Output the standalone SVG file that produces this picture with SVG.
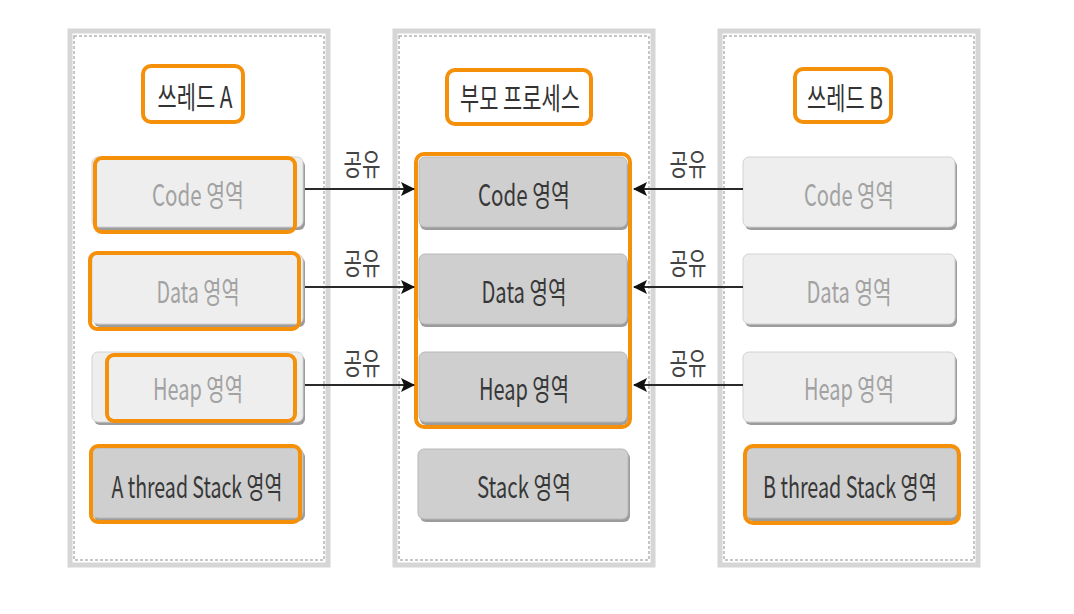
<svg xmlns="http://www.w3.org/2000/svg" width="1074" height="614" viewBox="0 0 1074 614">
  <style>
    .panel{fill:#ffffff;stroke:#d6d6d6;stroke-width:5}
    .dash{fill:none;stroke:#b4b4b4;stroke-width:1.5;stroke-dasharray:3 2}
    .shadow{fill:#9c9c9c}
    .light{fill:#eeeeee;stroke:#d2d2d2;stroke-width:1}
    .dark{fill:#cfcfcf;stroke:#b8b8b8;stroke-width:1}
    .orange{fill:none;stroke:#f5900a;stroke-width:4}
    .title{fill:#ffffff;stroke:#f5900a;stroke-width:4}
    text{font-family:"Noto Sans CJK KR","Noto Sans",sans-serif;dominant-baseline:central;text-anchor:middle}
    .tl{fill:#a2a2a2;font-size:30px}
    .td{fill:#383838;font-size:30px}
    .tt{fill:#333333;font-size:30px}
    .lab{fill:#444444;font-size:30px}
    .conn{stroke:#2a2a2a;stroke-width:2}
  </style>
  <defs>
    <marker id="ah" markerUnits="userSpaceOnUse" markerWidth="14" markerHeight="14" refX="13" refY="7" orient="auto">
      <path d="M0,0 L14,7 L0,14 L3,7 z" fill="#111111"/>
    </marker>
  </defs>
  <rect width="1074" height="614" fill="#ffffff"/>

  <!-- panels -->
  <g id="panel-thread-a">
    <rect class="panel" x="70" y="31" width="258" height="534"/>
    <rect class="dash" x="74" y="36" width="250" height="524"/>
  </g>
  <g id="panel-parent">
    <rect class="panel" x="395" y="31" width="258" height="534"/>
    <rect class="dash" x="399" y="36" width="250" height="524"/>
  </g>
  <g id="panel-thread-b">
    <rect class="panel" x="720" y="31" width="258" height="534"/>
    <rect class="dash" x="724" y="36" width="250" height="524"/>
  </g>

  <!-- titles -->
  <g id="title-a">
    <rect class="title" x="143" y="66" width="100" height="56" rx="8"/>
    <text class="tt" x="195" y="95" textLength="75" lengthAdjust="spacingAndGlyphs">쓰레드 A</text>
  </g>
  <g id="title-parent">
    <rect class="title" x="447" y="70" width="144" height="54" rx="8"/>
    <text class="tt" x="520" y="96" textLength="120" lengthAdjust="spacingAndGlyphs">부모 프로세스</text>
  </g>
  <g id="title-b">
    <rect class="title" x="795" y="69" width="96" height="53" rx="8"/>
    <text class="tt" x="845" y="96" textLength="76" lengthAdjust="spacingAndGlyphs">쓰레드 B</text>
  </g>

  <!-- thread A -->
  <g id="a-code">
    <rect class="shadow" x="94" y="160" width="211" height="70" rx="6"/>
    <rect class="light" x="92" y="157" width="211" height="70" rx="6"/>
    <rect class="orange" x="95" y="158" width="200" height="74" rx="7"/>
    <text class="tl" x="198" y="193" textLength="92" lengthAdjust="spacingAndGlyphs">Code 영역</text>
  </g>
  <g id="a-data">
    <rect class="shadow" x="94" y="257" width="211" height="70" rx="6"/>
    <rect class="light" x="92" y="254" width="211" height="70" rx="6"/>
    <rect class="orange" x="90" y="253" width="209" height="76" rx="7"/>
    <text class="tl" x="198" y="290" textLength="83" lengthAdjust="spacingAndGlyphs">Data 영역</text>
  </g>
  <g id="a-heap">
    <rect class="shadow" x="94" y="355" width="211" height="70" rx="6"/>
    <rect class="light" x="92" y="352" width="211" height="70" rx="6"/>
    <rect class="orange" x="107" y="355" width="188" height="66" rx="7"/>
    <text class="tl" x="198" y="387" textLength="90" lengthAdjust="spacingAndGlyphs">Heap 영역</text>
  </g>
  <g id="a-stack">
    <rect class="shadow" x="94" y="451" width="211" height="70" rx="6"/>
    <rect class="dark" x="92" y="448" width="211" height="70" rx="6"/>
    <rect class="orange" x="91" y="446" width="209" height="76" rx="7"/>
    <text class="td" x="197" y="485" textLength="171" lengthAdjust="spacingAndGlyphs">A thread Stack 영역</text>
  </g>

  <!-- parent -->
  <g id="p-code">
    <rect class="shadow" x="420" y="160" width="208" height="70" rx="6"/>
    <rect class="dark" x="419" y="157" width="208" height="70" rx="6"/>
    <text class="td" x="524" y="193" textLength="92" lengthAdjust="spacingAndGlyphs">Code 영역</text>
  </g>
  <g id="p-data">
    <rect class="shadow" x="420" y="257" width="208" height="70" rx="6"/>
    <rect class="dark" x="419" y="254" width="208" height="70" rx="6"/>
    <text class="td" x="524" y="290" textLength="85" lengthAdjust="spacingAndGlyphs">Data 영역</text>
  </g>
  <g id="p-heap">
    <rect class="shadow" x="420" y="355" width="208" height="70" rx="6"/>
    <rect class="dark" x="419" y="352" width="208" height="70" rx="6"/>
    <text class="td" x="524" y="387" textLength="90" lengthAdjust="spacingAndGlyphs">Heap 영역</text>
  </g>
  <g id="p-shared-outline">
    <rect class="orange" x="416" y="154" width="214" height="273" rx="8"/>
  </g>
  <g id="p-stack">
    <rect class="shadow" x="420" y="452" width="210" height="70" rx="6"/>
    <rect class="dark" x="418" y="449" width="210" height="70" rx="6"/>
    <text class="td" x="524" y="485" textLength="94" lengthAdjust="spacingAndGlyphs">Stack 영역</text>
  </g>

  <!-- thread B -->
  <g id="b-code">
    <rect class="shadow" x="745" y="160" width="212" height="70" rx="6"/>
    <rect class="light" x="743" y="157" width="212" height="70" rx="6"/>
    <text class="tl" x="849" y="193" textLength="90" lengthAdjust="spacingAndGlyphs">Code 영역</text>
  </g>
  <g id="b-data">
    <rect class="shadow" x="745" y="257" width="212" height="70" rx="6"/>
    <rect class="light" x="743" y="254" width="212" height="70" rx="6"/>
    <text class="tl" x="849" y="290" textLength="85" lengthAdjust="spacingAndGlyphs">Data 영역</text>
  </g>
  <g id="b-heap">
    <rect class="shadow" x="745" y="355" width="212" height="70" rx="6"/>
    <rect class="light" x="743" y="352" width="212" height="70" rx="6"/>
    <text class="tl" x="849" y="387" textLength="90" lengthAdjust="spacingAndGlyphs">Heap 영역</text>
  </g>
  <g id="b-stack">
    <rect class="shadow" x="747" y="451" width="212" height="70" rx="6"/>
    <rect class="dark" x="745" y="448" width="212" height="70" rx="6"/>
    <rect class="orange" x="745" y="446" width="214" height="77" rx="8"/>
    <text class="td" x="850" y="485" textLength="174" lengthAdjust="spacingAndGlyphs">B thread Stack 영역</text>
  </g>

  <!-- connectors -->
  <g id="connectors">
    <line class="conn" x1="305" y1="189" x2="414" y2="189" marker-end="url(#ah)"/>
    <line class="conn" x1="305" y1="287" x2="414" y2="287" marker-end="url(#ah)"/>
    <line class="conn" x1="305" y1="385" x2="414" y2="385" marker-end="url(#ah)"/>
    <line class="conn" x1="743" y1="189" x2="634" y2="189" marker-end="url(#ah)"/>
    <line class="conn" x1="743" y1="287" x2="634" y2="287" marker-end="url(#ah)"/>
    <line class="conn" x1="743" y1="385" x2="634" y2="385" marker-end="url(#ah)"/>
    <text class="lab" x="362" y="162" textLength="37" lengthAdjust="spacingAndGlyphs">공유</text>
    <text class="lab" x="362" y="261" textLength="37" lengthAdjust="spacingAndGlyphs">공유</text>
    <text class="lab" x="362" y="361" textLength="37" lengthAdjust="spacingAndGlyphs">공유</text>
    <text class="lab" x="688" y="162" textLength="37" lengthAdjust="spacingAndGlyphs">공유</text>
    <text class="lab" x="688" y="261" textLength="37" lengthAdjust="spacingAndGlyphs">공유</text>
    <text class="lab" x="688" y="361" textLength="37" lengthAdjust="spacingAndGlyphs">공유</text>
  </g>
</svg>
